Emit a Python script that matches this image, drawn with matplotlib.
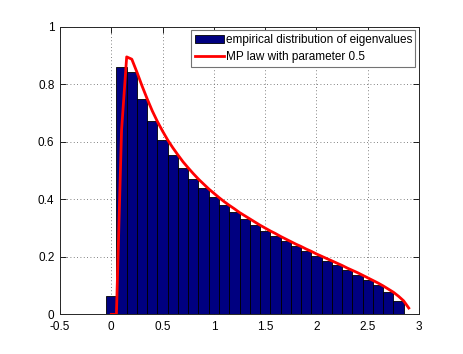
import matplotlib
matplotlib.use("Agg")
import matplotlib.pyplot as plt
import numpy as np

# Histogram bins (centres) and heights of the empirical distribution
bin_centers = [0.0, 0.1, 0.2, 0.3, 0.4, 0.5, 0.6, 0.7, 0.8, 0.9,
               1.0, 1.1, 1.2, 1.3, 1.4, 1.5, 1.6, 1.7, 1.8, 1.9,
               2.0, 2.1, 2.2, 2.3, 2.4, 2.5, 2.6, 2.7, 2.8]
bin_heights = [0.065, 0.859, 0.842, 0.750, 0.671, 0.607, 0.554, 0.510, 0.472, 0.438,
               0.408, 0.380, 0.356, 0.333, 0.312, 0.291, 0.272, 0.255, 0.238, 0.220,
               0.203, 0.185, 0.170, 0.153, 0.137, 0.119, 0.101, 0.076, 0.046]

# MP law curve samples
mp_x = [0.00, 0.05, 0.10, 0.15, 0.20, 0.25, 0.30, 0.35, 0.40, 0.45,
        0.50, 0.55, 0.60, 0.65, 0.70, 0.75, 0.80, 0.85, 0.90, 0.95,
        1.00, 1.05, 1.10, 1.15, 1.20, 1.25, 1.30, 1.35, 1.40, 1.45,
        1.50, 1.55, 1.60, 1.65, 1.70, 1.75, 1.80, 1.85, 1.90, 1.95,
        2.00, 2.05, 2.10, 2.15, 2.20, 2.25, 2.30, 2.35, 2.40, 2.45,
        2.50, 2.55, 2.60, 2.65, 2.70, 2.75, 2.80, 2.85, 2.90]
mp_y = [0.0, 0.0, 0.64, 0.895, 0.887, 0.842, 0.794, 0.749, 0.707, 0.670,
        0.637, 0.606, 0.579, 0.554, 0.530, 0.509, 0.489, 0.470, 0.453, 0.436,
        0.421, 0.406, 0.392, 0.379, 0.367, 0.354, 0.343, 0.332, 0.321, 0.310,
        0.300, 0.290, 0.281, 0.271, 0.262, 0.253, 0.244, 0.236, 0.227, 0.219,
        0.210, 0.202, 0.194, 0.186, 0.178, 0.170, 0.161, 0.153, 0.145, 0.136,
        0.127, 0.118, 0.109, 0.099, 0.088, 0.077, 0.063, 0.047, 0.022]

x_ticks = [-0.5, 0, 0.5, 1, 1.5, 2, 2.5, 3]
x_labels = ["-0.5", "0", "0.5", "1", "1.5", "2", "2.5", "3"]
y_ticks = [0, 0.2, 0.4, 0.6, 0.8, 1]
y_labels = ["0", "0.2", "0.4", "0.6", "0.8", "1"]

plt.rcParams['font.family'] = ['Liberation Sans', 'DejaVu Sans']
plt.rcParams['font.size'] = 8

fig = plt.figure(figsize=(4.63, 3.54), dpi=100)
ax = fig.add_axes([0.1296, 0.112, 0.7754, 0.8126])

bars = ax.bar(bin_centers, bin_heights, width=0.1, color=(0, 0, 0.5),
              edgecolor='black', linewidth=0.6,
              label='empirical distribution of eigenvalues', zorder=2)
line, = ax.plot(mp_x, mp_y, color='red', linewidth=2,
                label='MP law with parameter 0.5', zorder=3)

ax.set_xlim(-0.5, 3)
ax.set_ylim(0, 1)
ax.set_xticks(x_ticks)
ax.set_xticklabels(x_labels)
ax.set_yticks(y_ticks)
ax.set_yticklabels(y_labels)
ax.tick_params(direction='in', top=True, right=True, length=4, width=0.6,
               labelsize=8.5)
ax.tick_params(axis='x', pad=5)
ax.tick_params(axis='y', pad=4)
ax.set_axisbelow(True)
ax.grid(True, linestyle=(0, (1, 3)), color='0.35', linewidth=0.6)
for s in ax.spines.values():
    s.set_linewidth(0.7)
    s.set_color('0.15')

leg = ax.legend(handles=[bars, line], loc='upper right', fancybox=False,
                framealpha=1, edgecolor='0.45', borderaxespad=0.3,
                handlelength=2.5, handletextpad=0.1, borderpad=0.3,
                labelspacing=0.45, fontsize=8.5)
leg.get_frame().set_linewidth(0.8)

fig.savefig('out.png', dpi=100)
